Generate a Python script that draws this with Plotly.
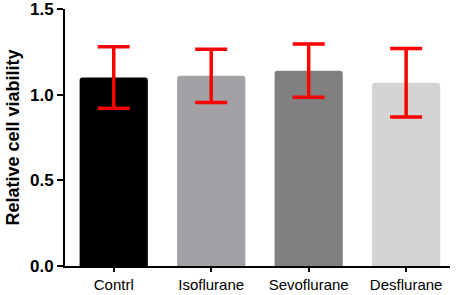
import plotly.graph_objects as go

categories = ["Contrl", "Isoflurane", "Sevoflurane", "Desflurane"]
values = [1.10, 1.11, 1.14, 1.07]
errors = [0.18, 0.155, 0.155, 0.20]
colors = ["#000000", "#a2a2a6", "#808080", "#d4d4d4"]
y_ticks = [0.0, 0.5, 1.0, 1.5]
y_tick_labels = ["0.0", "0.5", "1.0", "1.5"]

fig = go.Figure()
fig.add_trace(go.Bar(
    x=categories, y=values,
    marker=dict(color=colors, line=dict(width=0), cornerradius=3),
    width=0.70,
    error_y=dict(type="data", array=errors, visible=True,
                 color="#ff0000", thickness=3.5, width=16),
))

fig.update_layout(
    width=457, height=295,
    margin=dict(l=65, r=7, t=9, b=29),
    paper_bgcolor="white", plot_bgcolor="white",
    showlegend=False,
    font=dict(family="Liberation Sans, Arial, sans-serif", color="black"),
)
fig.update_xaxes(
    range=[-0.5, 3.45],
    automargin=False,
    showline=True, linecolor="black", linewidth=2,
    ticks="outside", ticklen=4, tickwidth=2, tickcolor="black",
    tickfont=dict(size=15, color="black"),
    ticklabelstandoff=0,
    ticklabeloverflow="allow",
    showgrid=False, zeroline=False,
)
fig.update_yaxes(
    range=[0, 1.5],
    automargin=False,
    tickvals=y_ticks, ticktext=["<b>%s</b>" % t for t in y_tick_labels],
    showline=True, linecolor="black", linewidth=2,
    ticks="outside", ticklen=6, tickwidth=2, tickcolor="black",
    tickfont=dict(size=17, color="black"),
    ticklabeloverflow="allow",
    showgrid=False, zeroline=False,
    title=dict(text="<b>Relative cell viability</b>", font=dict(size=18, color="black"), standoff=6),
)

fig.write_html(
    "out.html",
    config={"displayModeBar": False},
    post_script="document.body.style.margin='0';document.body.style.overflow='hidden';",
)
